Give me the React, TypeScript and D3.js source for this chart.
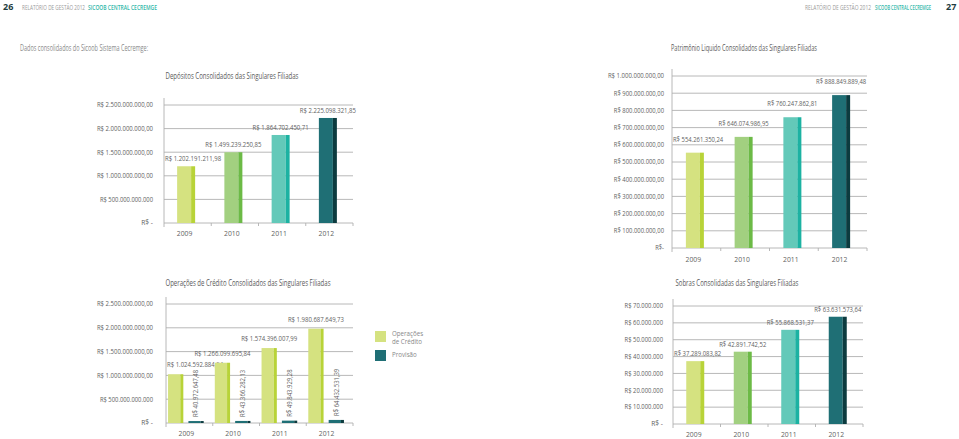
import React, { useLayoutEffect, useRef, useState } from 'react';
import * as d3 from 'd3';

const years = ['2009', '2010', '2011', '2012'];
const depositos = [1202191211.98, 1499239250.85, 1864702450.71, 2225098321.85];
const patrimonio = [554261350.24, 646074986.95, 760247862.81, 888849889.48];
const credito = [1024592884.94, 1266099695.84, 1574396007.99, 1980687649.73];
const provisao = [40972647.48, 43366282.13, 49843929.28, 64432531.39];
const sobras = [37289083.82, 42891742.52, 55868531.37, 63631573.64];

const bilTicks = [0, 5e8, 1e9, 1.5e9, 2e9, 2.5e9];
const bilTickLabels = ['R$ -', 'R$ 500.000.000.000', 'R$ 1.000.000.000,00', 'R$ 1.500.000.000,00', 'R$ 2.000.000.000,00', 'R$ 2.500.000.000,00'];
const patTicks = [0, 1e8, 2e8, 3e8, 4e8, 5e8, 6e8, 7e8, 8e8, 9e8, 1e9];
const patTickLabels = ['R$-', 'R$ 100.000.000,00', 'R$ 200.000.000,00', 'R$ 300.000.000,00', 'R$ 400.000.000,00', 'R$ 500.000.000,00', 'R$ 600.000.000,00', 'R$ 700.000.000,00', 'R$ 800.000.000,00', 'R$ 900.000.000,00', 'R$ 1.000.000.000,00'];
const sobTicks = [0, 1e7, 2e7, 3e7, 4e7, 5e7, 6e7, 7e7];
const sobTickLabels = ['R$ -', 'R$ 10.000.000', 'R$ 20.000.000', 'R$ 30.000.000', 'R$ 40.000.000', 'R$ 50.000.000', 'R$ 60.000.000', 'R$ 70.000.000'];

const yearFace = ['#d5e280', '#a2d080', '#63c9b9', '#1f6f75'];
const yearShade = ['#b8d338', '#6cba46', '#1cb2a2', '#0c3b3f'];
const GREEN_FACE = '#d5e280';
const GREEN_SHADE = '#b8d338';
const DARK_FACE = '#1f6f75';
const DARK_SHADE = '#0c3b3f';

const locale = d3.formatLocale({ decimal: ',', thousands: '.', grouping: [3], currency: ['R$ ', ''] });
const fmt = locale.format('$,.2f');

const FONT = '"Open Sans", "Liberation Sans", sans-serif';
const K = 2.95;
const NUM_SIZE = 6.8;
const GRID = '#b0b0b0';
const TXT = '#5f5f5f';

// Text squeezed horizontally (via a measured scale transform) to a target width
function FitText({ x, y, text, width, anchor = 'middle', size = NUM_SIZE, fill = TXT, weight = 400, rotate = 0 }: any) {
  const ref = useRef<SVGTextElement>(null);
  const [s, setS] = useState(0.75);
  useLayoutEffect(() => {
    if (ref.current) {
      const n = ref.current.getComputedTextLength();
      if (n > 0) setS(width / n);
    }
  }, [text, width, size]);
  const tr = `translate(${x},${y})${rotate ? ` rotate(${rotate})` : ''} scale(${s},1)`;
  return (
    <text ref={ref} x={0} y={0} transform={tr} textAnchor={anchor} fontFamily={FONT} fontSize={size} fill={fill} fontWeight={weight}>{text}</text>
  );
}

function NumText({ x, y, text, anchor = 'middle', rotate = 0 }: any) {
  return <FitText x={x} y={y} text={text} width={text.length * K} anchor={anchor} rotate={rotate} />;
}

function Axes({ x, y, ticks, tickLabels, x0, x1, yBase, yTop, tickRight, yearY }: any) {
  return (
    <g>
      {ticks.map((t: number, i: number) => (
        <g key={i}>
          <line x1={x0} x2={x1} y1={y(t)} y2={y(t)} stroke={GRID} strokeWidth={0.9} />
          <NumText x={tickRight} y={y(t) + 2.3} text={tickLabels[i]} anchor="end" />
        </g>
      ))}
      <line x1={x0} x2={x0} y1={yTop - 7} y2={yBase + 4} stroke={GRID} strokeWidth={0.9} />
      {years.map((yr, i) => (
        <line key={'t' + i} x1={(x(yr) as number) + x.bandwidth()} x2={(x(yr) as number) + x.bandwidth()} y1={yBase} y2={yBase + 3} stroke={GRID} strokeWidth={0.9} />
      ))}
      {years.map((yr) => (
        <text key={'y' + yr} x={(x(yr) as number) + x.bandwidth() / 2 - 3} y={yearY} textAnchor="middle" fontFamily={FONT} fontSize={6.8} fill={TXT}>{yr}</text>
      ))}
    </g>
  );
}

function BarPanel({ values, ticks, tickLabels, x0, x1, yBase, yTop, tickRight, yearY, gap }: any) {
  const x = d3.scaleBand().domain(years).range([x0, x1]);
  const y = d3.scaleLinear().domain([0, ticks[ticks.length - 1]]).range([yBase, yTop]);
  const bw = 18;
  const shade = 4;
  return (
    <g>
      <Axes x={x} y={y} ticks={ticks} tickLabels={tickLabels} x0={x0} x1={x1} yBase={yBase} yTop={yTop} tickRight={tickRight} yearY={yearY} />
      {values.map((v: number, i: number) => {
        const cx = (x(years[i]) as number) + x.bandwidth() / 2 - 1.5;
        const top = y(v);
        const label = fmt(v);
        const w = label.length * K;
        const lx = Math.max(cx, x0 + 1 + w / 2);
        return (
          <g key={i}>
            <rect x={cx - bw / 2} y={top} width={bw - shade} height={yBase - top} fill={yearFace[i]} />
            <rect x={cx + bw / 2 - shade} y={top} width={shade} height={yBase - top} fill={yearShade[i]} />
            <NumText x={lx} y={top - gap} text={label} />
          </g>
        );
      })}
    </g>
  );
}

function CreditPanel() {
  const x0 = 166, x1 = 353, yBase = 423, yTop = 304;
  const x = d3.scaleBand().domain(years).range([x0, x1]);
  const inner = d3.scaleBand().domain(['c', 'p']).range([0, x.bandwidth() * 0.85]).paddingInner(0.25).paddingOuter(0.1);
  const y = d3.scaleLinear().domain([0, bilTicks[bilTicks.length - 1]]).range([yBase, yTop]);
  const bw = inner.bandwidth();
  return (
    <g>
      <Axes x={x} y={y} ticks={bilTicks} tickLabels={bilTickLabels} x0={x0} x1={x1} yBase={yBase} yTop={yTop} tickRight={153} yearY={436} />
      {years.map((yr, i) => {
        const gx = (x(yr) as number) + (inner('c') as number);
        const px = (x(yr) as number) + (inner('p') as number);
        const ct = y(credito[i]);
        const pt = y(provisao[i]);
        const label = fmt(credito[i]);
        const w = label.length * K;
        const cx = gx + bw / 2;
        const lx = Math.max(cx, x0 + 1 + w / 2);
        const pcx = px + bw / 2;
        return (
          <g key={yr}>
            <rect x={gx} y={ct} width={bw - 3} height={yBase - ct} fill={GREEN_FACE} />
            <rect x={gx + bw - 3} y={ct} width={3} height={yBase - ct} fill={GREEN_SHADE} />
            <rect x={px} y={pt} width={bw - 3} height={yBase - pt} fill={DARK_FACE} />
            <rect x={px + bw - 3} y={pt} width={3} height={yBase - pt} fill={DARK_SHADE} />
            <NumText x={lx} y={ct - 7} text={label} />
            <NumText x={pcx + 2.4} y={pt - 4} text={fmt(provisao[i])} anchor="start" rotate={-90} />
          </g>
        );
      })}
      <rect x={375} y={331} width={11} height={11} fill={GREEN_FACE} />
      <rect x={375} y={350} width={11} height={11} fill={DARK_FACE} />
      <text x={392} y={336} fontFamily={FONT} fontSize={6.2} fill="#888">Operações</text>
      <text x={392} y={344} fontFamily={FONT} fontSize={6.2} fill="#888">de Crédito</text>
      <text x={392} y={357} fontFamily={FONT} fontSize={6.2} fill="#888">Provisão</text>
    </g>
  );
}

export default function App() {
  return (
    <svg width={959} height={439} style={{ position: 'absolute', left: 0, top: 0, background: '#fff' }}>
      <rect x={0} y={0} width={959} height={439} fill="#fff" />
      {/* header */}
      <text x={3} y={10} fontFamily={FONT} fontSize={9} fontWeight={700} fill="#1e3c40">26</text>
      <FitText x={22} y={9.5} text="RELATÓRIO DE GESTÃO 2012" width={63} size={6.5} fill="#9a9a9a" anchor="start" />
      <FitText x={88} y={9.5} text="SICOOB CENTRAL CECREMGE" width={69} size={6.5} fill="#2fb7a9" anchor="start" weight={600} />
      <FitText x={805} y={9.5} text="RELATÓRIO DE GESTÃO 2012" width={66} size={6.5} fill="#9a9a9a" anchor="start" />
      <FitText x={875} y={9.5} text="SICOOB CENTRAL CECREMGE" width={56} size={6.5} fill="#2fb7a9" anchor="start" weight={600} />
      <text x={946} y={10} fontFamily={FONT} fontSize={9} fontWeight={700} fill="#1e3c40">27</text>

      <FitText x={20} y={51} text="Dados consolidados do Sicoob Sistema Cecremge:" width={128} size={9.5} fill="#8a8a8a" anchor="start" />
      <FitText x={744} y={51} text="Patrimônio Liquido Consolidados das Singulares Filiadas" width={146} size={8.8} fill="#5a5a5a" />
      <FitText x={232} y={79} text="Depósitos Consolidados das Singulares Filiadas" width={133} size={8.8} fill="#5a5a5a" />
      <FitText x={248} y={286} text="Operações de Crédito Consolidados das Singulares Filiadas" width={165} size={8.8} fill="#5a5a5a" />
      <FitText x={737} y={286} text="Sobras Consolidadas das Singulares Filiadas" width={123} size={8.8} fill="#5a5a5a" />

      <BarPanel values={depositos} ticks={bilTicks} tickLabels={bilTickLabels} x0={164} x1={353} yBase={223} yTop={105} tickRight={153} yearY={236} gap={5} />
      <BarPanel values={patrimonio} ticks={patTicks} tickLabels={patTickLabels} x0={672} x1={867} yBase={248} yTop={76} tickRight={664} yearY={262} gap={11} />
      <BarPanel values={sobras} ticks={sobTicks} tickLabels={sobTickLabels} x0={673} x1={863} yBase={424} yTop={306} tickRight={663} yearY={437} gap={5} />
      <CreditPanel />
    </svg>
  );
}
